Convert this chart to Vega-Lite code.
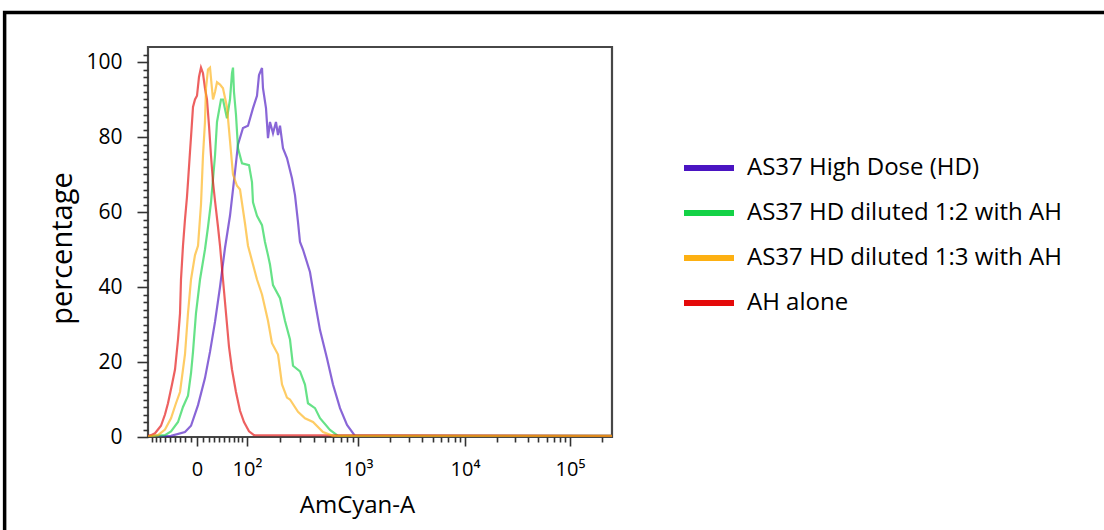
{
  "$schema": "https://vega.github.io/schema/vega-lite/v6.json",
  "autosize": {"type": "none"},
  "padding": {"left": 148, "top": 47, "right": 492, "bottom": 93},
  "width": 464,
  "height": 390,
  "background": "#ffffff",
  "config": {
    "view": {"stroke": "#474747", "strokeWidth": 2.2},
    "font": "Open Sans"
  },
  "layer": [
    {
      "data": {"values": [{"frame": "figure border"}]},
      "mark": {"type": "rect", "fill": "transparent", "stroke": "#000000", "strokeWidth": 3.5, "clip": false},
      "encoding": {
        "x": {"datum": -309, "type": "quantitative"},
        "x2": {"datum": 2100},
        "y": {"datum": 113.2, "type": "quantitative"},
        "y2": {"datum": -30}
      }
    },
    {
      "data": {"values": [
        {"sample": "AS37 High Dose (HD)", "channel": 0, "percent": 0},
        {"sample": "AS37 High Dose (HD)", "channel": 49.6, "percent": 0.3},
        {"sample": "AS37 High Dose (HD)", "channel": 79.7, "percent": 1.3},
        {"sample": "AS37 High Dose (HD)", "channel": 92.7, "percent": 3},
        {"sample": "AS37 High Dose (HD)", "channel": 107.8, "percent": 8.5},
        {"sample": "AS37 High Dose (HD)", "channel": 122.8, "percent": 15.7},
        {"sample": "AS37 High Dose (HD)", "channel": 133.6, "percent": 22.7},
        {"sample": "AS37 High Dose (HD)", "channel": 144.4, "percent": 30.7},
        {"sample": "AS37 High Dose (HD)", "channel": 155.2, "percent": 40},
        {"sample": "AS37 High Dose (HD)", "channel": 165.9, "percent": 50.4},
        {"sample": "AS37 High Dose (HD)", "channel": 176.7, "percent": 59},
        {"sample": "AS37 High Dose (HD)", "channel": 187.5, "percent": 70.7},
        {"sample": "AS37 High Dose (HD)", "channel": 194.0, "percent": 78},
        {"sample": "AS37 High Dose (HD)", "channel": 204.7, "percent": 82.4},
        {"sample": "AS37 High Dose (HD)", "channel": 215.5, "percent": 83},
        {"sample": "AS37 High Dose (HD)", "channel": 226.3, "percent": 87.7},
        {"sample": "AS37 High Dose (HD)", "channel": 234.9, "percent": 91},
        {"sample": "AS37 High Dose (HD)", "channel": 239.2, "percent": 96.5},
        {"sample": "AS37 High Dose (HD)", "channel": 245.7, "percent": 98.4},
        {"sample": "AS37 High Dose (HD)", "channel": 247.8, "percent": 93},
        {"sample": "AS37 High Dose (HD)", "channel": 254.3, "percent": 87.7},
        {"sample": "AS37 High Dose (HD)", "channel": 258.6, "percent": 79.7},
        {"sample": "AS37 High Dose (HD)", "channel": 262.9, "percent": 84},
        {"sample": "AS37 High Dose (HD)", "channel": 269.4, "percent": 81},
        {"sample": "AS37 High Dose (HD)", "channel": 275.8, "percent": 84},
        {"sample": "AS37 High Dose (HD)", "channel": 280.2, "percent": 80.5},
        {"sample": "AS37 High Dose (HD)", "channel": 284.5, "percent": 83},
        {"sample": "AS37 High Dose (HD)", "channel": 290.9, "percent": 77},
        {"sample": "AS37 High Dose (HD)", "channel": 299.5, "percent": 74.4},
        {"sample": "AS37 High Dose (HD)", "channel": 310.3, "percent": 69},
        {"sample": "AS37 High Dose (HD)", "channel": 316.8, "percent": 64.5},
        {"sample": "AS37 High Dose (HD)", "channel": 323.3, "percent": 57.3},
        {"sample": "AS37 High Dose (HD)", "channel": 327.6, "percent": 52},
        {"sample": "AS37 High Dose (HD)", "channel": 334.0, "percent": 50},
        {"sample": "AS37 High Dose (HD)", "channel": 349.1, "percent": 44},
        {"sample": "AS37 High Dose (HD)", "channel": 359.9, "percent": 36},
        {"sample": "AS37 High Dose (HD)", "channel": 370.7, "percent": 28.5},
        {"sample": "AS37 High Dose (HD)", "channel": 385.7, "percent": 21},
        {"sample": "AS37 High Dose (HD)", "channel": 398.7, "percent": 14},
        {"sample": "AS37 High Dose (HD)", "channel": 413.8, "percent": 7.7},
        {"sample": "AS37 High Dose (HD)", "channel": 428.9, "percent": 3.2},
        {"sample": "AS37 High Dose (HD)", "channel": 446.1, "percent": 0.3},
        {"sample": "AS37 High Dose (HD)", "channel": 1000, "percent": 0.3},

        {"sample": "AS37 HD diluted 1:2 with AH", "channel": 0, "percent": 0.2},
        {"sample": "AS37 HD diluted 1:2 with AH", "channel": 36.6, "percent": 0.5},
        {"sample": "AS37 HD diluted 1:2 with AH", "channel": 49.6, "percent": 1.5},
        {"sample": "AS37 HD diluted 1:2 with AH", "channel": 64.7, "percent": 4},
        {"sample": "AS37 HD diluted 1:2 with AH", "channel": 75.4, "percent": 8},
        {"sample": "AS37 HD diluted 1:2 with AH", "channel": 86.2, "percent": 11},
        {"sample": "AS37 HD diluted 1:2 with AH", "channel": 92.7, "percent": 17},
        {"sample": "AS37 HD diluted 1:2 with AH", "channel": 97.0, "percent": 22.7},
        {"sample": "AS37 HD diluted 1:2 with AH", "channel": 103.4, "percent": 33},
        {"sample": "AS37 HD diluted 1:2 with AH", "channel": 112.1, "percent": 42},
        {"sample": "AS37 HD diluted 1:2 with AH", "channel": 122.8, "percent": 50},
        {"sample": "AS37 HD diluted 1:2 with AH", "channel": 129.3, "percent": 56},
        {"sample": "AS37 HD diluted 1:2 with AH", "channel": 135.8, "percent": 62.6},
        {"sample": "AS37 HD diluted 1:2 with AH", "channel": 144.4, "percent": 75},
        {"sample": "AS37 HD diluted 1:2 with AH", "channel": 148.7, "percent": 84},
        {"sample": "AS37 HD diluted 1:2 with AH", "channel": 157.3, "percent": 90},
        {"sample": "AS37 HD diluted 1:2 with AH", "channel": 161.6, "percent": 90},
        {"sample": "AS37 HD diluted 1:2 with AH", "channel": 170.2, "percent": 85},
        {"sample": "AS37 HD diluted 1:2 with AH", "channel": 176.7, "percent": 90},
        {"sample": "AS37 HD diluted 1:2 with AH", "channel": 181.0, "percent": 97},
        {"sample": "AS37 HD diluted 1:2 with AH", "channel": 183.2, "percent": 98.5},
        {"sample": "AS37 HD diluted 1:2 with AH", "channel": 185.3, "percent": 92},
        {"sample": "AS37 HD diluted 1:2 with AH", "channel": 189.6, "percent": 86},
        {"sample": "AS37 HD diluted 1:2 with AH", "channel": 194.0, "percent": 77},
        {"sample": "AS37 HD diluted 1:2 with AH", "channel": 202.6, "percent": 73},
        {"sample": "AS37 HD diluted 1:2 with AH", "channel": 217.7, "percent": 72.5},
        {"sample": "AS37 HD diluted 1:2 with AH", "channel": 224.1, "percent": 68},
        {"sample": "AS37 HD diluted 1:2 with AH", "channel": 226.3, "percent": 62.6},
        {"sample": "AS37 HD diluted 1:2 with AH", "channel": 234.9, "percent": 59},
        {"sample": "AS37 HD diluted 1:2 with AH", "channel": 245.7, "percent": 56.5},
        {"sample": "AS37 HD diluted 1:2 with AH", "channel": 252.1, "percent": 52},
        {"sample": "AS37 HD diluted 1:2 with AH", "channel": 258.6, "percent": 48.5},
        {"sample": "AS37 HD diluted 1:2 with AH", "channel": 262.9, "percent": 46},
        {"sample": "AS37 HD diluted 1:2 with AH", "channel": 269.4, "percent": 40.5},
        {"sample": "AS37 HD diluted 1:2 with AH", "channel": 284.5, "percent": 37},
        {"sample": "AS37 HD diluted 1:2 with AH", "channel": 295.2, "percent": 31},
        {"sample": "AS37 HD diluted 1:2 with AH", "channel": 306.0, "percent": 26},
        {"sample": "AS37 HD diluted 1:2 with AH", "channel": 312.5, "percent": 19},
        {"sample": "AS37 HD diluted 1:2 with AH", "channel": 327.6, "percent": 17.5},
        {"sample": "AS37 HD diluted 1:2 with AH", "channel": 338.3, "percent": 14},
        {"sample": "AS37 HD diluted 1:2 with AH", "channel": 344.8, "percent": 9},
        {"sample": "AS37 HD diluted 1:2 with AH", "channel": 359.9, "percent": 7.7},
        {"sample": "AS37 HD diluted 1:2 with AH", "channel": 370.7, "percent": 5},
        {"sample": "AS37 HD diluted 1:2 with AH", "channel": 392.2, "percent": 1.9},
        {"sample": "AS37 HD diluted 1:2 with AH", "channel": 409.5, "percent": 0.3},
        {"sample": "AS37 HD diluted 1:2 with AH", "channel": 1000, "percent": 0.3},

        {"sample": "AH alone", "channel": 0, "percent": 0.3},
        {"sample": "AH alone", "channel": 6.5, "percent": 0.5},
        {"sample": "AH alone", "channel": 15.1, "percent": 1},
        {"sample": "AH alone", "channel": 28.0, "percent": 3},
        {"sample": "AH alone", "channel": 36.6, "percent": 6},
        {"sample": "AH alone", "channel": 43.1, "percent": 9},
        {"sample": "AH alone", "channel": 51.7, "percent": 14},
        {"sample": "AH alone", "channel": 58.2, "percent": 18},
        {"sample": "AH alone", "channel": 64.7, "percent": 26},
        {"sample": "AH alone", "channel": 69.0, "percent": 33},
        {"sample": "AH alone", "channel": 71.1, "percent": 42},
        {"sample": "AH alone", "channel": 75.4, "percent": 51},
        {"sample": "AH alone", "channel": 79.7, "percent": 58},
        {"sample": "AH alone", "channel": 84.0, "percent": 64},
        {"sample": "AH alone", "channel": 86.2, "percent": 68},
        {"sample": "AH alone", "channel": 90.5, "percent": 76},
        {"sample": "AH alone", "channel": 92.7, "percent": 80},
        {"sample": "AH alone", "channel": 97.0, "percent": 88},
        {"sample": "AH alone", "channel": 101.3, "percent": 90},
        {"sample": "AH alone", "channel": 105.6, "percent": 91},
        {"sample": "AH alone", "channel": 109.9, "percent": 96},
        {"sample": "AH alone", "channel": 114.2, "percent": 98.5},
        {"sample": "AH alone", "channel": 118.5, "percent": 97},
        {"sample": "AH alone", "channel": 122.8, "percent": 93},
        {"sample": "AH alone", "channel": 127.1, "percent": 90},
        {"sample": "AH alone", "channel": 131.5, "percent": 83},
        {"sample": "AH alone", "channel": 135.8, "percent": 75},
        {"sample": "AH alone", "channel": 140.1, "percent": 68},
        {"sample": "AH alone", "channel": 144.4, "percent": 63},
        {"sample": "AH alone", "channel": 150.9, "percent": 56},
        {"sample": "AH alone", "channel": 155.2, "percent": 51},
        {"sample": "AH alone", "channel": 161.6, "percent": 42},
        {"sample": "AH alone", "channel": 168.1, "percent": 33},
        {"sample": "AH alone", "channel": 174.6, "percent": 24},
        {"sample": "AH alone", "channel": 181.0, "percent": 18},
        {"sample": "AH alone", "channel": 189.6, "percent": 12},
        {"sample": "AH alone", "channel": 198.3, "percent": 7},
        {"sample": "AH alone", "channel": 206.9, "percent": 4},
        {"sample": "AH alone", "channel": 217.7, "percent": 1.5},
        {"sample": "AH alone", "channel": 228.4, "percent": 0.5},
        {"sample": "AH alone", "channel": 1000, "percent": 0.3},

        {"sample": "AS37 HD diluted 1:3 with AH", "channel": 0, "percent": 0.2},
        {"sample": "AS37 HD diluted 1:3 with AH", "channel": 21.6, "percent": 0.5},
        {"sample": "AS37 HD diluted 1:3 with AH", "channel": 36.6, "percent": 2},
        {"sample": "AS37 HD diluted 1:3 with AH", "channel": 49.6, "percent": 5},
        {"sample": "AS37 HD diluted 1:3 with AH", "channel": 60.3, "percent": 9},
        {"sample": "AS37 HD diluted 1:3 with AH", "channel": 69.0, "percent": 12},
        {"sample": "AS37 HD diluted 1:3 with AH", "channel": 79.7, "percent": 22},
        {"sample": "AS37 HD diluted 1:3 with AH", "channel": 86.2, "percent": 33},
        {"sample": "AS37 HD diluted 1:3 with AH", "channel": 92.7, "percent": 42},
        {"sample": "AS37 HD diluted 1:3 with AH", "channel": 101.3, "percent": 48.5},
        {"sample": "AS37 HD diluted 1:3 with AH", "channel": 107.8, "percent": 51},
        {"sample": "AS37 HD diluted 1:3 with AH", "channel": 114.2, "percent": 62},
        {"sample": "AS37 HD diluted 1:3 with AH", "channel": 118.5, "percent": 75},
        {"sample": "AS37 HD diluted 1:3 with AH", "channel": 122.8, "percent": 84},
        {"sample": "AS37 HD diluted 1:3 with AH", "channel": 125.0, "percent": 93},
        {"sample": "AS37 HD diluted 1:3 with AH", "channel": 129.3, "percent": 98},
        {"sample": "AS37 HD diluted 1:3 with AH", "channel": 133.6, "percent": 98.5},
        {"sample": "AS37 HD diluted 1:3 with AH", "channel": 140.1, "percent": 90},
        {"sample": "AS37 HD diluted 1:3 with AH", "channel": 144.4, "percent": 92},
        {"sample": "AS37 HD diluted 1:3 with AH", "channel": 148.7, "percent": 94.6},
        {"sample": "AS37 HD diluted 1:3 with AH", "channel": 155.2, "percent": 94},
        {"sample": "AS37 HD diluted 1:3 with AH", "channel": 161.6, "percent": 93},
        {"sample": "AS37 HD diluted 1:3 with AH", "channel": 170.2, "percent": 88},
        {"sample": "AS37 HD diluted 1:3 with AH", "channel": 176.7, "percent": 79},
        {"sample": "AS37 HD diluted 1:3 with AH", "channel": 183.2, "percent": 70},
        {"sample": "AS37 HD diluted 1:3 with AH", "channel": 191.8, "percent": 67},
        {"sample": "AS37 HD diluted 1:3 with AH", "channel": 198.3, "percent": 66},
        {"sample": "AS37 HD diluted 1:3 with AH", "channel": 209.0, "percent": 57},
        {"sample": "AS37 HD diluted 1:3 with AH", "channel": 215.5, "percent": 51},
        {"sample": "AS37 HD diluted 1:3 with AH", "channel": 226.3, "percent": 46},
        {"sample": "AS37 HD diluted 1:3 with AH", "channel": 234.9, "percent": 42},
        {"sample": "AS37 HD diluted 1:3 with AH", "channel": 245.7, "percent": 38},
        {"sample": "AS37 HD diluted 1:3 with AH", "channel": 258.6, "percent": 31},
        {"sample": "AS37 HD diluted 1:3 with AH", "channel": 267.2, "percent": 25},
        {"sample": "AS37 HD diluted 1:3 with AH", "channel": 280.2, "percent": 22},
        {"sample": "AS37 HD diluted 1:3 with AH", "channel": 288.8, "percent": 14},
        {"sample": "AS37 HD diluted 1:3 with AH", "channel": 299.5, "percent": 10.5},
        {"sample": "AS37 HD diluted 1:3 with AH", "channel": 306.0, "percent": 10},
        {"sample": "AS37 HD diluted 1:3 with AH", "channel": 323.3, "percent": 6.7},
        {"sample": "AS37 HD diluted 1:3 with AH", "channel": 338.3, "percent": 5},
        {"sample": "AS37 HD diluted 1:3 with AH", "channel": 355.6, "percent": 4},
        {"sample": "AS37 HD diluted 1:3 with AH", "channel": 377.1, "percent": 1.3},
        {"sample": "AS37 HD diluted 1:3 with AH", "channel": 398.7, "percent": 0.3},
        {"sample": "AS37 HD diluted 1:3 with AH", "channel": 1000, "percent": 0.3}
      ]},
      "mark": {"type": "line", "strokeWidth": 2.2, "opacity": 0.65, "clip": true},
      "encoding": {
        "x": {
          "field": "channel",
          "type": "quantitative",
          "scale": {"domain": [0, 1000], "nice": false, "zero": false},
          "axis": {
            "values": [8.6, 17.2, 25.9, 36.6, 47.4, 58.2, 69.0, 79.7, 92.7, 105.6, 118.5, 131.5, 142.2, 153.0, 163.8, 174.6, 185.3, 194.0, 202.6, 213.3, 284.5, 327.6, 357.7, 381.4, 398.7, 415.9, 428.9, 441.8, 452.6, 521.5, 562.5, 590.5, 614.2, 631.4, 646.5, 661.6, 672.4, 683.1, 752.1, 790.9, 818.9, 840.5, 859.8, 874.9, 887.9, 898.6, 909.4, 978.4],
            "tickCount": 500,
            "labelExpr": "datum.value == 105.6 ? '0' : datum.value == 213.3 ? '10²' : datum.value == 452.6 ? '10³' : datum.value == 683.1 ? '10⁴' : datum.value == 909.4 ? '10⁵' : ''",
            "tickSize": {"condition": {"test": "indexof([105.6, 213.3, 452.6, 683.1, 909.4], datum.value) >= 0", "value": 9}, "value": 5},
            "tickColor": "#333333",
            "tickWidth": 1.6,
            "domain": false,
            "grid": false,
            "labelOverlap": false,
            "labelFlush": false,
            "labelFont": "Open Sans",
            "labelFontSize": 20,
            "labelColor": "#000000",
            "labelPadding": 13,
            "title": "AmCyan-A",
            "titleFont": "Open Sans",
            "titleFontSize": 24,
            "titleFontWeight": "normal",
            "titleColor": "#000000",
            "titleX": 209,
            "titleY": 75,
            "titleAlign": "center",
            "titleBaseline": "alphabetic"
          }
        },
        "y": {
          "field": "percent",
          "type": "quantitative",
          "scale": {"domain": [0, 104], "nice": false},
          "axis": {
            "values": [0, 2, 4, 6, 8, 10, 12, 14, 16, 18, 20, 22, 24, 26, 28, 30, 32, 34, 36, 38, 40, 42, 44, 46, 48, 50, 52, 54, 56, 58, 60, 62, 64, 66, 68, 70, 72, 74, 76, 78, 80, 82, 84, 86, 88, 90, 92, 94, 96, 98, 100, 102],
            "tickCount": 500,
            "labelExpr": "datum.value % 20 == 0 ? format(datum.value, 'd') : ''",
            "tickSize": {"condition": {"test": "datum.value % 20 == 0", "value": 11}, "value": 5},
            "tickColor": "#333333",
            "tickWidth": 1.6,
            "domain": false,
            "grid": false,
            "labelOverlap": false,
            "labelFlush": false,
            "labelFont": "Open Sans",
            "labelFontSize": 21,
            "labelColor": "#000000",
            "labelPadding": 15,
            "title": "percentage",
            "titleFont": "Open Sans",
            "titleFontSize": 29,
            "titleFontWeight": "normal",
            "titleColor": "#000000",
            "titleX": -77,
            "titleY": 201,
            "titleAlign": "center",
            "titleBaseline": "alphabetic"
          }
        },
        "color": {
          "field": "sample",
          "type": "nominal",
          "scale": {
            "domain": ["AS37 High Dose (HD)", "AS37 HD diluted 1:2 with AH", "AS37 HD diluted 1:3 with AH", "AH alone"],
            "range": ["#4a14c2", "#14d246", "#fdb012", "#e40a0a"]
          },
          "legend": {
            "orient": "none",
            "legendX": 533,
            "legendY": 93,
            "title": null,
            "padding": 0,
            "symbolType": "stroke",
            "symbolSize": 2500,
            "symbolStrokeWidth": 6,
            "symbolOpacity": 1,
            "labelFont": "Open Sans",
            "labelFontSize": 24,
            "labelColor": "#000000",
            "labelOffset": 10,
            "labelLimit": 0,
            "rowPadding": 5
          }
        }
      }
    }
  ]
}
